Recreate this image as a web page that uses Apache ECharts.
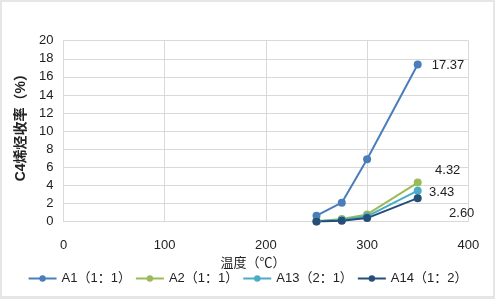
<!DOCTYPE html>
<html>
<head>
<meta charset="utf-8">
<script src="https://cdn.jsdelivr.net/npm/echarts@6/dist/echarts.min.js"></script>
<style>
  html, body { margin: 0; padding: 0; background: #e6e6e6; }
  #chart { position: absolute; left: 2px; top: 2px; width: 491px; height: 294px; background: #fff; }
</style>
</head>
<body>
<div id="chart"></div>
<script>
// 温度 (℃)
const temps = [250, 275, 300, 350]
const seriesNames = ['A1（1：1）', 'A2（1：1）', 'A13（2：1）', 'A14（1：2）']
const a1 = [0.66, 2.1, 6.9, 17.37]
const a2 = [0.05, 0.3, 0.8, 4.32]
const a13 = [0.05, 0.2, 0.6, 3.43]
const a14 = [0.02, 0.1, 0.4, 2.60]
const colors = ['#4a7ebb', '#9bbb59', '#4bacc6', '#254e79']

// 末端数据标签的偏移
const labelOffsets = [[8, 0], [30, -12], [24, 2], [44, 15]]

const font = '"Liberation Sans", "Noto Sans CJK SC", sans-serif'
const chart = echarts.init(document.getElementById('chart'))

const makeSeries = (name, vals, i) => ({
  name,
  type: 'line',
  color: colors[i],
  symbol: 'circle',
  symbolSize: 8,
  lineStyle: { width: 2 },
  data: vals.map((v, k) => {
    const item = { value: [temps[k], v] }
    if (k === vals.length - 1) {
      item.label = {
        show: true,
        position: i === 0 ? 'right' : 'inside',
        offset: i === 0 ? [2, 1] : labelOffsets[i],
        distance: 8,
        color: '#222',
        fontSize: 13,
        fontFamily: font,
        formatter: (p) => p.value[1].toFixed(2)
      }
    }
    return item
  })
})

chart.setOption({
  animation: false,
  textStyle: { fontFamily: font },
  grid: { left: 61.5, right: 24.7, top: 38.7, bottom: 74.3 },
  legend: {
    bottom: 6,
    left: 'center',
    itemWidth: 28,
    itemHeight: 8,
    itemGap: 4,
    textStyle: { fontSize: 13, color: '#222', fontFamily: font },
    data: seriesNames
  },
  xAxis: {
    type: 'value',
    min: 0, max: 400, interval: 100,
    name: '温度（℃）',
    nameLocation: 'middle',
    nameGap: 31,
    nameTextStyle: { fontSize: 13, color: '#222', padding: [0, 26, 0, 0] },
    axisLine: { show: true, lineStyle: { color: '#d9d9d9' } },
    axisTick: { show: false },
    axisLabel: { margin: 17, fontSize: 13, color: '#222' },
    splitLine: { show: true, lineStyle: { color: '#d9d9d9' } }
  },
  yAxis: {
    type: 'value',
    min: 0, max: 20, interval: 2,
    name: 'C4烯烃收率（%）',
    nameLocation: 'middle',
    nameGap: 35,
    nameTextStyle: { fontSize: 14, fontWeight: 'bold', color: '#222', padding: [0, 0, 0, 14] },
    axisLine: { show: true, lineStyle: { color: '#d9d9d9' } },
    axisTick: { show: false },
    axisLabel: { margin: 10, fontSize: 13, color: '#222' },
    splitLine: { show: true, lineStyle: { color: '#d9d9d9' } }
  },
  series: [
    makeSeries(seriesNames[0], a1, 0),
    makeSeries(seriesNames[1], a2, 1),
    makeSeries(seriesNames[2], a13, 2),
    makeSeries(seriesNames[3], a14, 3)
  ]
})
</script>
</body>
</html>
